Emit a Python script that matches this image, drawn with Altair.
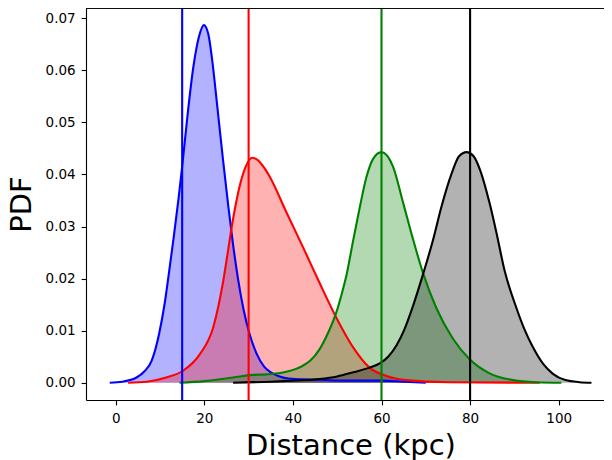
import altair as alt
import pandas as pd

# ---- data ----
blue_x = [-1.35, 1.5, 4.7, 6.5, 8.1, 9.8, 11.1, 12.0, 13.1, 14.2, 15.0, 16.1, 17.5, 18.8, 19.9,
          20.9, 21.7, 23.0, 24.2, 25.4, 26.5, 27.6, 28.8, 30.2, 31.8, 33.5, 35.0, 37.0,
          39.0, 44.0, 52.0, 60.0, 65.0, 70.0]
blue_y = [0.0, 0.0002, 0.001, 0.0022, 0.0042, 0.0094, 0.0155, 0.0210, 0.0280, 0.0355, 0.0415,
          0.0505, 0.0605, 0.0665, 0.0687, 0.0670, 0.0625, 0.0525, 0.0430, 0.0340, 0.0265,
          0.0200, 0.0143, 0.0094, 0.0056, 0.0031, 0.0020, 0.0012, 0.0008, 0.0006, 0.0004,
          0.0004, 0.0002, 0.0]

red_x = [2.8, 7.0, 11.4, 15.2, 19.0, 22.0, 23.2, 24.2, 25.2, 26.2, 27.2, 28.2, 29.5, 30.8,
         32.0, 33.5, 34.8, 38.5, 42.3, 46.0, 49.8, 53.6, 57.3, 61.1, 65.6, 75.0, 95.7]
red_y = [0.0, 0.0002, 0.001, 0.0023, 0.0055, 0.0106, 0.0148, 0.0192, 0.0245, 0.0300, 0.0347,
         0.0385, 0.0418, 0.0432, 0.0428, 0.0413, 0.0395, 0.0328, 0.0260, 0.0192, 0.0125,
         0.0068, 0.0029, 0.0013, 0.0005, 0.0001, 0.0]

green_x = [14.4, 20.0, 26.5, 31.0, 34.0, 38.5, 42.3, 44.0, 46.0, 47.9, 49.8, 51.0, 52.1, 53.6,
           55.1, 56.6, 58.1, 60.0, 62.6, 64.9, 67.1, 69.4, 72.4, 76.1, 79.9, 84.4, 89.7,
           95.0, 100.6]
green_y = [0.0, 0.0003, 0.001, 0.0015, 0.0016, 0.0021, 0.0033, 0.0043, 0.0064, 0.0095,
           0.0135, 0.0170, 0.0207, 0.0273, 0.0337, 0.0395, 0.0430, 0.0443, 0.0415, 0.0345,
           0.0276, 0.0210, 0.0143, 0.0085, 0.0045, 0.0018, 0.0005, 0.0001, 0.0]

black_x = [26.5, 35.0, 40.0, 46.0, 50.0, 53.6, 57.3, 59.6, 61.5, 63.4, 65.2, 67.1, 69.4,
           71.6, 73.5, 75.8, 77.5, 79.2, 80.8, 82.2, 84.4, 85.9, 87.8, 90.4, 92.3, 94.2,
           96.5, 98.7, 101.5, 104.7, 107.4]
black_y = [0.0, 0.0002, 0.0004, 0.0007, 0.0012, 0.002, 0.0029, 0.0037, 0.0050, 0.0072,
           0.0103, 0.0147, 0.0209, 0.0273, 0.0337, 0.0401, 0.0435, 0.0443, 0.0435, 0.0410,
           0.0345, 0.0290, 0.0215, 0.0145, 0.0102, 0.0068, 0.0036, 0.0017, 0.0005, 0.0001,
           0.0]

series_names = ["blue", "red", "green", "black"]
series_colors = ["#0000ff", "#ff0000", "#008000", "#000000"]
true_dist = [15, 30, 60, 80]

x_ticks = [0, 20, 40, 60, 80, 100]
y_ticks = [0.0, 0.01, 0.02, 0.03, 0.04, 0.05, 0.06, 0.07]

# ---- build tables ----
series_data = {}
for name, xs, ys in zip(series_names, [blue_x, red_x, green_x, black_x],
                        [blue_y, red_y, green_y, black_y]):
    series_data[name] = pd.DataFrame({"dist": xs, "pdf": ys, "zero": [0.0] * len(xs)})
vlines = pd.DataFrame({"series": series_names, "dist": true_dist})

W, H = 518, 392
FONT = "DejaVu Sans"

xscale = alt.Scale(domain=[-6.71, 110.23], nice=False, zero=False)
yscale = alt.Scale(domain=[-0.00332, 0.07198], nice=False, zero=False)
cscale = alt.Scale(domain=series_names, range=series_colors)

xaxis = alt.Axis(values=x_ticks, title="Distance (kpc)", grid=False, format="d",
                 labelFont=FONT, labelFontSize=13.5, labelColor="black", labelPadding=6.5,
                 tickSize=4.9, tickWidth=1.1, tickColor="black",
                 domainColor="black", domainWidth=1.1,
                 titleFont=FONT, titleFontSize=29, titleFontWeight="normal", titleColor="black",
                 titleX=264.5, titleY=54, titleBaseline="alphabetic", titleAlign="center")
yaxis = alt.Axis(values=y_ticks, title="PDF", grid=False, format=".2f",
                 labelFont=FONT, labelFontSize=13.5, labelColor="black", labelPadding=6,
                 tickSize=4.9, tickWidth=1.1, tickColor="black",
                 domainColor="black", domainWidth=1.1,
                 titleFont=FONT, titleFontSize=29, titleFontWeight="normal", titleColor="black",
                 titleX=-55.3, titleY=196, titleAngle=270, titleBaseline="alphabetic",
                 titleAlign="center")

X = alt.X("dist:Q", scale=xscale, axis=xaxis)
Y = alt.Y("pdf:Q", scale=yscale, axis=yaxis)

areas, lines = [], []
for name, col in zip(series_names, series_colors):
    df = series_data[name]
    areas.append(alt.Chart(df).mark_area(color=col, fillOpacity=0.3, interpolate="monotone").encode(
        x=X, y=Y, y2=alt.Y2("zero:Q"),
    ))
    lines.append(alt.Chart(df).mark_line(color=col, strokeWidth=2.1, interpolate="monotone").encode(
        x=X, y=Y,
    ))

rules = alt.Chart(vlines).mark_rule(strokeWidth=2.1).encode(
    x=X,
    color=alt.Color("series:N", scale=cscale, legend=None),
)

top_border = alt.Chart(vlines).mark_rule(color="black", strokeWidth=1.1).encode(
    x=alt.value(0), x2=alt.value(W), y=alt.value(0)
)

chart = alt.layer(*areas, *lines, rules, top_border).properties(
    width=W, height=H,
    autosize=alt.AutoSizeParams(type="none"),
    padding={"left": 78, "top": 0, "right": 0, "bottom": 60},
).configure_view(stroke=None).configure(background="white")

chart.save("out.html", embed_options={"renderer": "svg", "actions": False})
